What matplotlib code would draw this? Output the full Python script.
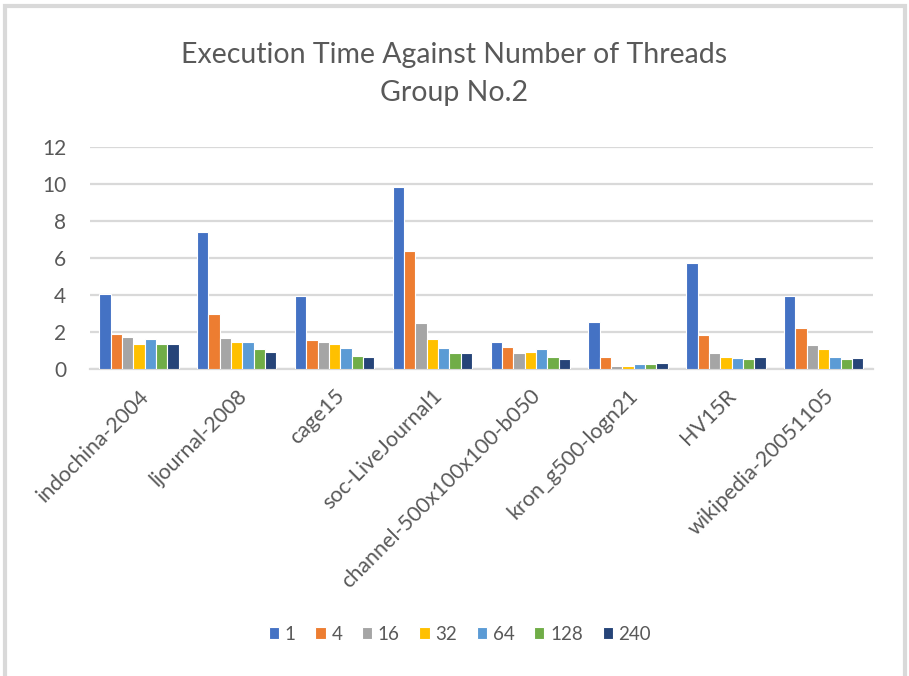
import numpy as np
import matplotlib
matplotlib.use("Agg")
import matplotlib.pyplot as plt
from matplotlib.patches import Rectangle

# Execution time (s) per graph for each thread count
graphs = ["indochina-2004", "ljournal-2008", "cage15", "soc-LiveJournal1",
          "channel-500x100x100-b050", "kron_g500-logn21", "HV15R", "wikipedia-20051105"]
threads = ["1", "4", "16", "32", "64", "128", "240"]
t1 = [4.06, 7.40, 3.94, 9.83, 1.48, 2.57, 5.76, 3.94]
t4 = [1.90, 2.98, 1.56, 6.37, 1.22, 0.67, 1.83, 2.23]
t16 = [1.76, 1.69, 1.44, 2.50, 0.88, 0.18, 0.88, 1.29]
t32 = [1.36, 1.44, 1.36, 1.63, 0.95, 0.18, 0.67, 1.08]
t64 = [1.63, 1.49, 1.15, 1.15, 1.08, 0.25, 0.61, 0.67]
t128 = [1.36, 1.08, 0.72, 0.88, 0.67, 0.25, 0.53, 0.53]
t240 = [1.36, 0.95, 0.67, 0.88, 0.53, 0.33, 0.67, 0.61]
series = [t1, t4, t16, t32, t64, t128, t240]

colors = ["#4472C4", "#ED7D31", "#A5A5A5", "#FFC000", "#5B9BD5", "#70AD47", "#264478"]
text_color = "#595959"
grid_color = "#D9D9D9"

plt.rcParams["font.family"] = ["Lato", "DejaVu Sans"]

fig = plt.figure(figsize=(9.09, 6.76), dpi=100)
ax = fig.add_axes([0.099, 0.454, 0.861, 0.3284])

x = np.arange(len(graphs))
n = len(series)
group_w = 0.81
bar_w = group_w / n
for i, (vals, c, lab) in enumerate(zip(series, colors, threads)):
    offs = -group_w / 2 + bar_w * (i + 0.5)
    ax.bar(x + offs, vals, width=bar_w, color=c, edgecolor="white",
           linewidth=0.8, label=lab, zorder=3)

ax.set_xlim(-0.5, len(graphs) - 0.5)
ax.set_ylim(0, 12)
ax.set_yticks(np.arange(0, 13, 2))
ax.yaxis.grid(True, color=grid_color, linewidth=1.6, zorder=0)
for s in ["top", "right", "left"]:
    ax.spines[s].set_visible(False)
ax.spines["bottom"].set_color(grid_color)
ax.spines["bottom"].set_linewidth(1.6)
ax.tick_params(axis="both", length=0, colors=text_color, labelsize=15)
ax.tick_params(axis="y", pad=17)
ax.set_xticks(x)
ax.set_xticklabels(graphs, rotation=45, ha="right", rotation_mode="anchor",
                   fontsize=15.5)
ax.tick_params(axis="x", pad=12)

fig.text(0.5, 0.918, "Execution Time Against Number of Threads", ha="center",
         va="center", fontsize=20.5, color=text_color)
fig.text(0.5, 0.862, "Group No.2", ha="center", va="center",
         fontsize=20.5, color=text_color)

fig.legend(loc="center", bbox_to_anchor=(0.506, 0.062), ncol=n, frameon=False,
           fontsize=13.5, labelcolor=text_color, handlelength=0.55, handleheight=0.55,
           handletextpad=0.3, columnspacing=1.05)

# light frame around the chart area
fig.patches.append(Rectangle((5 / 909, -0.02), 900 / 909, 1 - 6 / 676 + 0.02,
                             transform=fig.transFigure, fill=False,
                             edgecolor=grid_color, linewidth=3))

fig.savefig("out.png", dpi=100)
